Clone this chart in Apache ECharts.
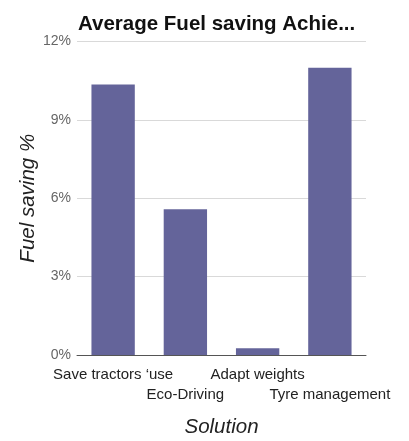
<!DOCTYPE html>
<html>
<head>
<meta charset="utf-8">
<script src="https://cdn.jsdelivr.net/npm/echarts@6/dist/echarts.min.js"></script>
<style>html,body{margin:0;padding:0;background:#fff}#c{width:409px;height:441px}</style>
</head>
<body>
<div id="c"></div>
<script>
var titleText = 'Average Fuel saving Achie...';
var categories = ['Save tractors \u2018use', 'Eco-Driving', 'Adapt weights', 'Tyre management'];
var fuelSaving = [10.35, 5.58, 0.26, 11.0];
var yTicks = [0, 3, 6, 9, 12];

var chart = echarts.init(document.getElementById('c'));
chart.setOption({
  animation: false,
  title: {
    text: titleText,
    left: 73,
    top: 9,
    textStyle: { fontFamily: 'Liberation Sans', fontWeight: 'bold', fontSize: 20.5, color: '#111' }
  },
  grid: { left: 77, right: 43, top: 41.5, bottom: 86, outerBoundsMode: 'none', containLabel: false },
  xAxis: {
    type: 'category',
    data: categories,
    name: 'Solution',
    nameLocation: 'middle',
    nameGap: 62,
    nameTextStyle: { fontFamily: 'Liberation Sans', fontStyle: 'italic', fontSize: 20.5, color: '#222' },
    axisLine: { lineStyle: { color: '#555', width: 1 } },
    axisTick: { show: false },
    axisLabel: {
      interval: 0,
      margin: 10,
      fontFamily: 'Liberation Sans',
      fontSize: 15,
      color: '#222',
      lineHeight: 20,
      formatter: function (v, i) { return i % 2 ? '\n' + v : v; }
    }
  },
  yAxis: {
    type: 'value',
    min: yTicks[0],
    max: yTicks[yTicks.length - 1],
    interval: 3,
    name: 'Fuel saving %',
    nameLocation: 'middle',
    nameRotate: 90,
    nameGap: 39,
    nameMoveOverlap: false,
    nameTextStyle: { fontFamily: 'Liberation Sans', fontStyle: 'italic', fontSize: 20.5, color: '#222' },
    axisLine: { show: false },
    axisTick: { show: false },
    splitLine: { lineStyle: { color: '#d9d9d9', width: 1 } },
    axisLabel: { formatter: '{value}%', margin: 6, fontFamily: 'Liberation Sans', fontSize: 14, color: '#666' }
  },
  series: [{
    type: 'bar',
    data: fuelSaving,
    barWidth: '60%',
    itemStyle: { color: '#64649a' }
  }]
});
</script>
</body>
</html>
